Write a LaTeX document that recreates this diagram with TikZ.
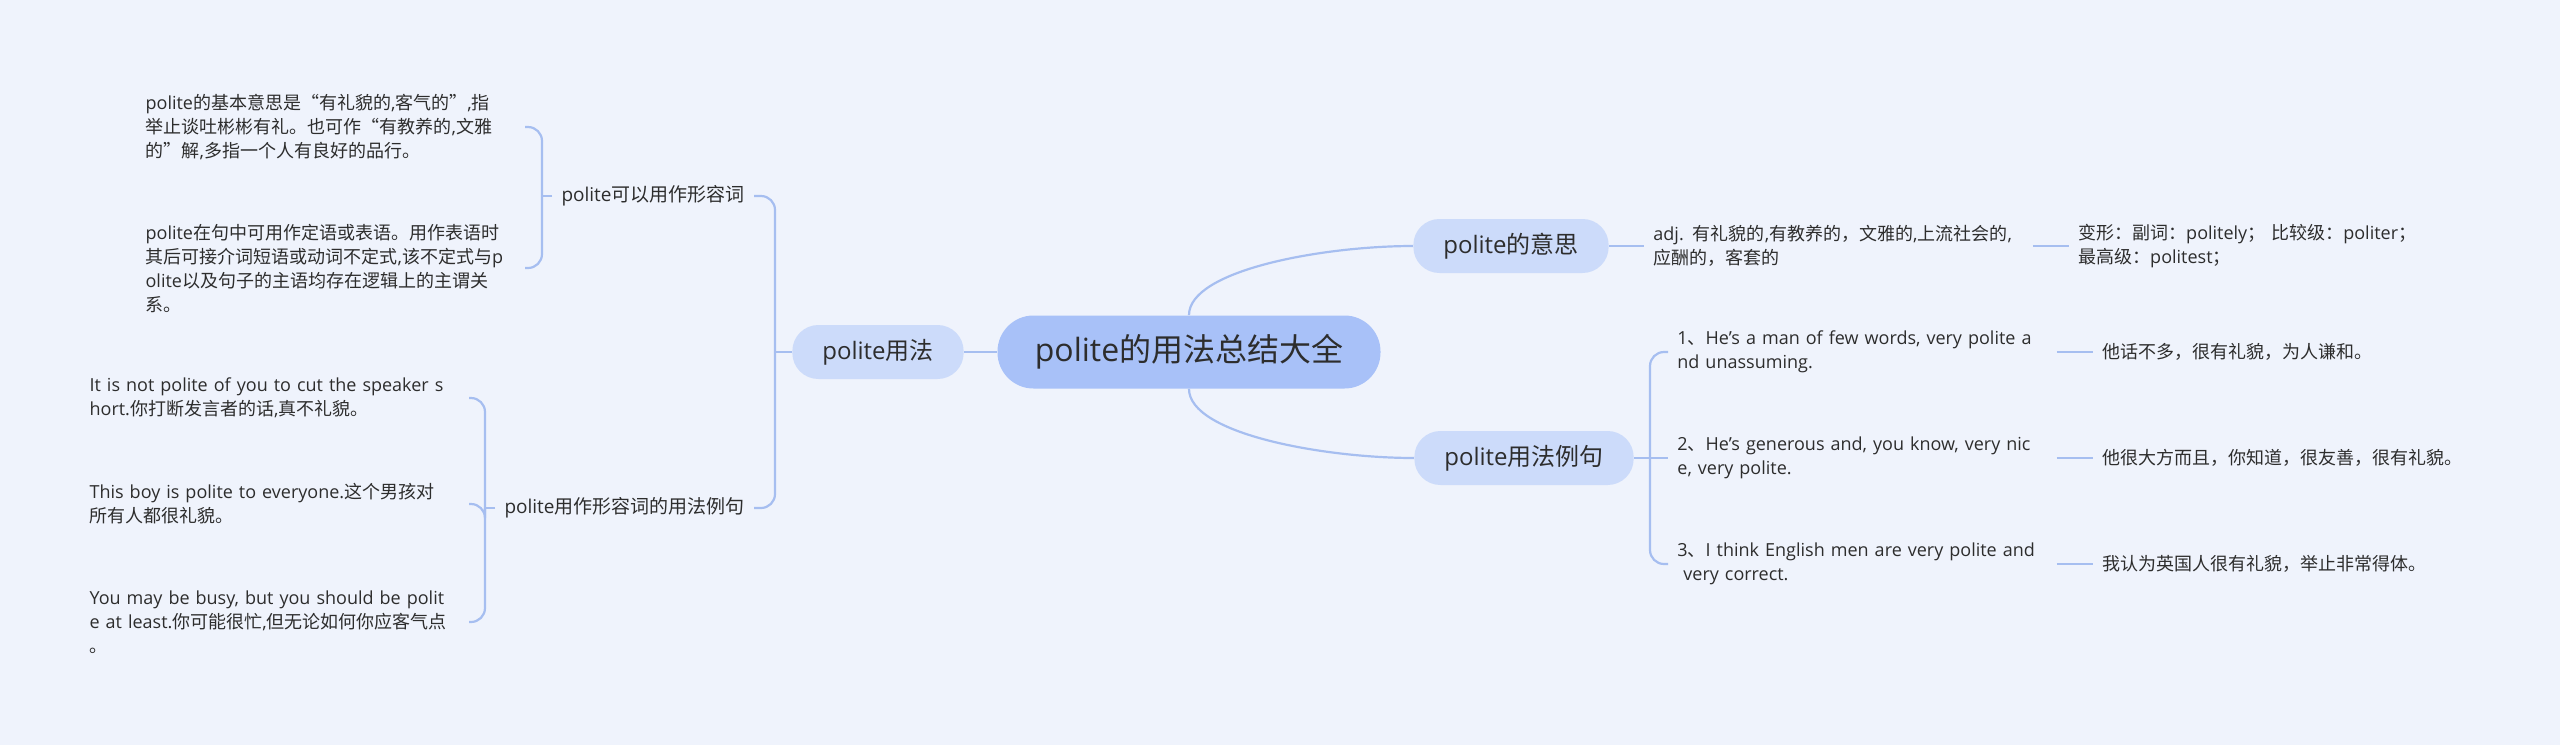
\documentclass[tikz,border=0pt]{standalone}
\usepackage{fontspec}
\setmainfont{Open Sans}
\newfontfamily\hanfont{Noto Sans CJK SC}
% switch to the CJK family for Han characters and CJK punctuation
\XeTeXinterchartokenstate=1
\newXeTeXintercharclass\HanChar
\newcount\hancode
\newcommand\sethanrange[2]{\hancode=#1\relax
  \loop\XeTeXcharclass\hancode=\HanChar\relax
  \ifnum\hancode<#2\advance\hancode by 1 \repeat}
\sethanrange{"4E00}{"9FFF}
\sethanrange{"3000}{"303F}
\sethanrange{"FF00}{"FFEF}
\sethanrange{"201C}{"201D}
\XeTeXinterchartoks 0 \HanChar = {\begingroup\hanfont}
\XeTeXinterchartoks 4095 \HanChar = {\begingroup\hanfont}
\XeTeXinterchartoks \HanChar 0 = {\endgroup}
\XeTeXinterchartoks \HanChar 4095 = {\endgroup}
\usetikzlibrary{positioning}
\definecolor{PaperBlue}{RGB}{239,243,252}
\definecolor{RootBlue}{RGB}{168,193,248}
\definecolor{TopicBlue}{RGB}{204,219,250}
\definecolor{LinkBlue}{RGB}{166,190,240}
\definecolor{InkGray}{RGB}{45,45,45}
\tikzset{
  rootbox/.style={fill=RootBlue,rounded corners=18pt,minimum height=36.5pt,
    minimum width=191.5pt,text=InkGray,font=\fontsize{16}{19}\selectfont},
  topicbox/.style={fill=TopicBlue,rounded corners=13pt,minimum height=27pt,
    inner xsep=15pt,text=InkGray,font=\fontsize{12}{14}\selectfont},
  subtopic/.style={inner xsep=4.5pt,text=InkGray,font=\fontsize{9.5}{12}\selectfont},
  leaf/.style={inner xsep=4.5pt,inner ysep=2pt,text width=185pt,align=left,
    text=InkGray,font=\fontsize{9}{12}\selectfont},
  link/.style={draw=LinkBlue,line width=1.1pt,rounded corners=7pt}
}
\begin{document}
\begin{tikzpicture}[x=0.5pt,y=-0.5pt]
  \fill[PaperBlue] (0,0) rectangle (2560,745);
  \useasboundingbox (0,0) rectangle (2560,745);
  % central topic and main branches
  \node[rootbox] (root) at (1189,352) {polite的用法总结大全};
  \node[topicbox] (usage) at (878,352) {polite用法};
  \node[topicbox] (meaning) at (1511,246) {polite的意思};
  \node[topicbox] (samples) at (1524,458) {polite用法例句};
  % left side
  \node[subtopic,anchor=east] (adjuse) at (754,196) {polite可以用作形容词};
  \node[subtopic,anchor=east] (adjsamples) at (754,508) {polite用作形容词的用法例句};
  \node[leaf,anchor=east] (basic) at (525,127) {polite的基本意思是“有礼貌的,客气的”,指\\举止谈吐彬彬有礼。也可作“有教养的,文雅\\的”解,多指一个人有良好的品行。};
  \node[leaf,anchor=east] (syntax) at (525,268) {polite在句中可用作定语或表语。用作表语时\\其后可接介词短语或动词不定式,该不定式与p\\olite以及句子的主语均存在逻辑上的主谓关\\系。};
  \node[leaf,anchor=east] (cutshort) at (469,398) {It is not polite of you to cut the speaker s\\hort.你打断发言者的话,真不礼貌。};
  \node[leaf,anchor=east] (everyone) at (469,504) {This boy is polite to everyone.这个男孩对\\所有人都很礼貌。};
  \node[leaf,anchor=east] (busy) at (469,622) {You may be busy, but you should be polit\\e at least.你可能很忙,但无论如何你应客气点\\。};
  % right side
  \node[leaf,anchor=west] (senses) at (1644,246) {adj. 有礼貌的,有教养的，文雅的,上流社会的,\\应酬的，客套的};
  \node[leaf,right=18pt of senses] (forms) {变形：副词：politely； 比较级：politer；\\最高级：politest；};
  \node[leaf,anchor=west] (fewwords) at (1668,352) {1、He's a man of few words, very polite a\\nd unassuming.};
  \node[leaf,anchor=west] (generous) at (1668,458) {2、He's generous and, you know, very nic\\e, very polite.};
  \node[leaf,anchor=west] (english) at (1668,564) {3、I think English men are very polite and\\\ very correct.};
  \node[leaf,right=18pt of fewwords] (fewwordscn) {他话不多，很有礼貌，为人谦和。};
  \node[leaf,right=18pt of generous] (generouscn) {他很大方而且，你知道，很友善，很有礼貌。};
  \node[leaf,right=18pt of english] (englishcn) {我认为英国人很有礼貌，举止非常得体。};
  % connectors
  \coordinate (usefork) at (775,352);
  \coordinate (adjfork) at (542,196);
  \coordinate (samplefork) at (485,508);
  \coordinate (rightfork) at (1650,458);
  \draw[link] (usage.east) -- (root.west);
  \draw[link] (root.north) .. controls +(0,-45) and +(-90,0) .. (meaning.west);
  \draw[link] (root.south) .. controls +(0,45) and +(-90,0) .. (samples.west);
  \draw[link] (usage.west) -- (usefork);
  \draw[link] (usefork) |- (adjuse.east);
  \draw[link] (usefork) |- (adjsamples.east);
  \draw[link] (adjuse.west) -- (adjfork);
  \draw[link] (adjfork) |- (basic.east);
  \draw[link] (adjfork) |- (syntax.east);
  \draw[link] (adjsamples.west) -- (samplefork);
  \draw[link] (samplefork) |- (cutshort.east);
  \draw[link] (samplefork) |- (everyone.east);
  \draw[link] (samplefork) |- (busy.east);
  \draw[link] (meaning.east) -- (senses.west);
  \draw[link] (senses.east) -- (forms.west);
  \draw[link] (samples.east) -- (generous.west);
  \draw[link] (rightfork) |- (fewwords.west);
  \draw[link] (rightfork) |- (english.west);
  \draw[link] (fewwords.east) -- (fewwordscn.west);
  \draw[link] (generous.east) -- (generouscn.west);
  \draw[link] (english.east) -- (englishcn.west);
\end{tikzpicture}
\end{document}
